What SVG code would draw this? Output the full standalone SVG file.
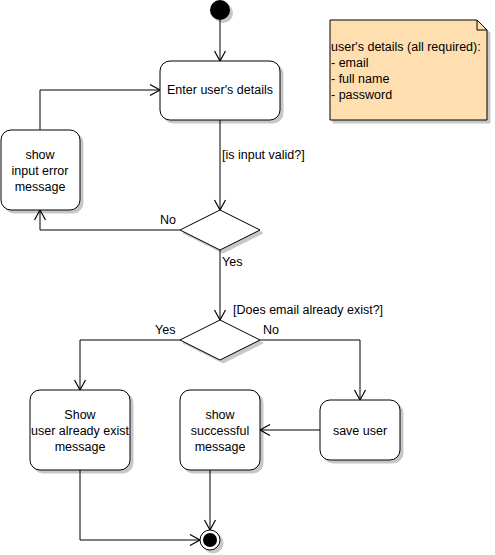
<svg xmlns="http://www.w3.org/2000/svg" width="495" height="555" viewBox="0 0 495 555">
<style>
.box{fill:#ffffff;stroke:#000000;stroke-width:1;filter:url(#sh)}
.txt{font-family:"Liberation Sans",Arial,sans-serif;font-size:12.5px;fill:#000000}
.mid{text-anchor:middle}
.edge{fill:none;stroke:#000000;stroke-width:1;marker-end:url(#arr)}
.plain{fill:none;stroke:#000000;stroke-width:1}
</style>
<defs>
<filter id="sh" x="-10%" y="-10%" width="130%" height="130%">
<feOffset in="SourceAlpha" dx="3" dy="3" result="o"/>
<feFlood flood-color="#000000" flood-opacity="0.22"/>
<feComposite in2="o" operator="in" result="s"/>
<feMerge><feMergeNode in="s"/><feMergeNode in="SourceGraphic"/></feMerge>
</filter>
<marker id="arr" markerUnits="userSpaceOnUse" markerWidth="14" markerHeight="14" viewBox="0 0 14 14" refX="11" refY="7" orient="auto">
<path d="M1,1.5 L11,7 L1,12.5" fill="none" stroke="#000000" stroke-width="1.2"/>
</marker>
</defs>
<rect width="495" height="555" fill="#ffffff"/>
<g id="connectors">
<path class="edge" d="M220,20 L220,61"/>
<path class="edge" d="M220,120 L220,210"/>
<path class="edge" d="M180,230 L40,230 L40,210"/>
<path class="edge" d="M40,130 L40,90 L160,90"/>
<path class="edge" d="M220,250 L220,320"/>
<path class="edge" d="M180,340 L80,340 L80,390"/>
<path class="edge" d="M260,340 L360,340 L360,400"/>
<path class="edge" d="M320,430 L260,430"/>
<path class="edge" d="M210,470 L210,530"/>
<path class="edge" d="M80,470 L80,540 L200,540"/>
</g>
<g id="labels">
<text class="txt" x="222" y="159">[is input valid?]</text>
<text class="txt" x="160" y="224">No</text>
<text class="txt" x="222" y="266">Yes</text>
<text class="txt" x="233" y="314">[Does email already exist?]</text>
<text class="txt" x="155" y="334">Yes</text>
<text class="txt" x="263" y="334">No</text>
</g>
<g id="start"><circle cx="220" cy="10" r="10" fill="#000000" filter="url(#sh)"/></g>
<g id="enter"><rect class="box" x="160" y="61" width="120" height="59" rx="10"/><text class="txt mid" x="220" y="94">Enter user's details</text></g>
<g id="inputError"><rect class="box" x="1" y="130" width="79" height="80" rx="10"/><text class="txt mid" x="40" y="159">show</text><text class="txt mid" x="40" y="175">input error</text><text class="txt mid" x="40" y="191">message</text></g>
<g id="validDecision"><path class="box" d="M220,210 L260,230 L220,250 L180,230 Z"/></g>
<g id="existDecision"><path class="box" d="M220,320 L260,340 L220,360 L180,340 Z"/></g>
<g id="userExists"><rect class="box" x="30" y="390" width="100" height="80" rx="10"/><text class="txt mid" x="80" y="419">Show</text><text class="txt mid" x="80" y="435">user already exist</text><text class="txt mid" x="80" y="451">message</text></g>
<g id="success"><rect class="box" x="180" y="390" width="80" height="80" rx="10"/><text class="txt mid" x="220" y="419">show</text><text class="txt mid" x="220" y="435">successful</text><text class="txt mid" x="220" y="451">message</text></g>
<g id="saveUser"><rect class="box" x="320" y="400" width="80" height="60" rx="10"/><text class="txt mid" x="360" y="435">save user</text></g>
<g id="end"><circle cx="210" cy="540" r="10" fill="#ffffff" stroke="#000000" stroke-width="1" filter="url(#sh)"/><circle cx="210" cy="540" r="7" fill="#000000"/></g>
<g id="note"><path d="M330,20 L477,20 L487,30 L487,120 L330,120 Z" fill="#ffdfb0" stroke="#000000" stroke-width="1" filter="url(#sh)"/><path d="M477,20 L477,30 L487,30" fill="none" stroke="#000000" stroke-width="1"/>
<text class="txt" x="331" y="51">user's details (all required):</text><text class="txt" x="331" y="67">- email</text><text class="txt" x="331" y="83">- full name</text><text class="txt" x="331" y="99">- password</text></g>
</svg>
